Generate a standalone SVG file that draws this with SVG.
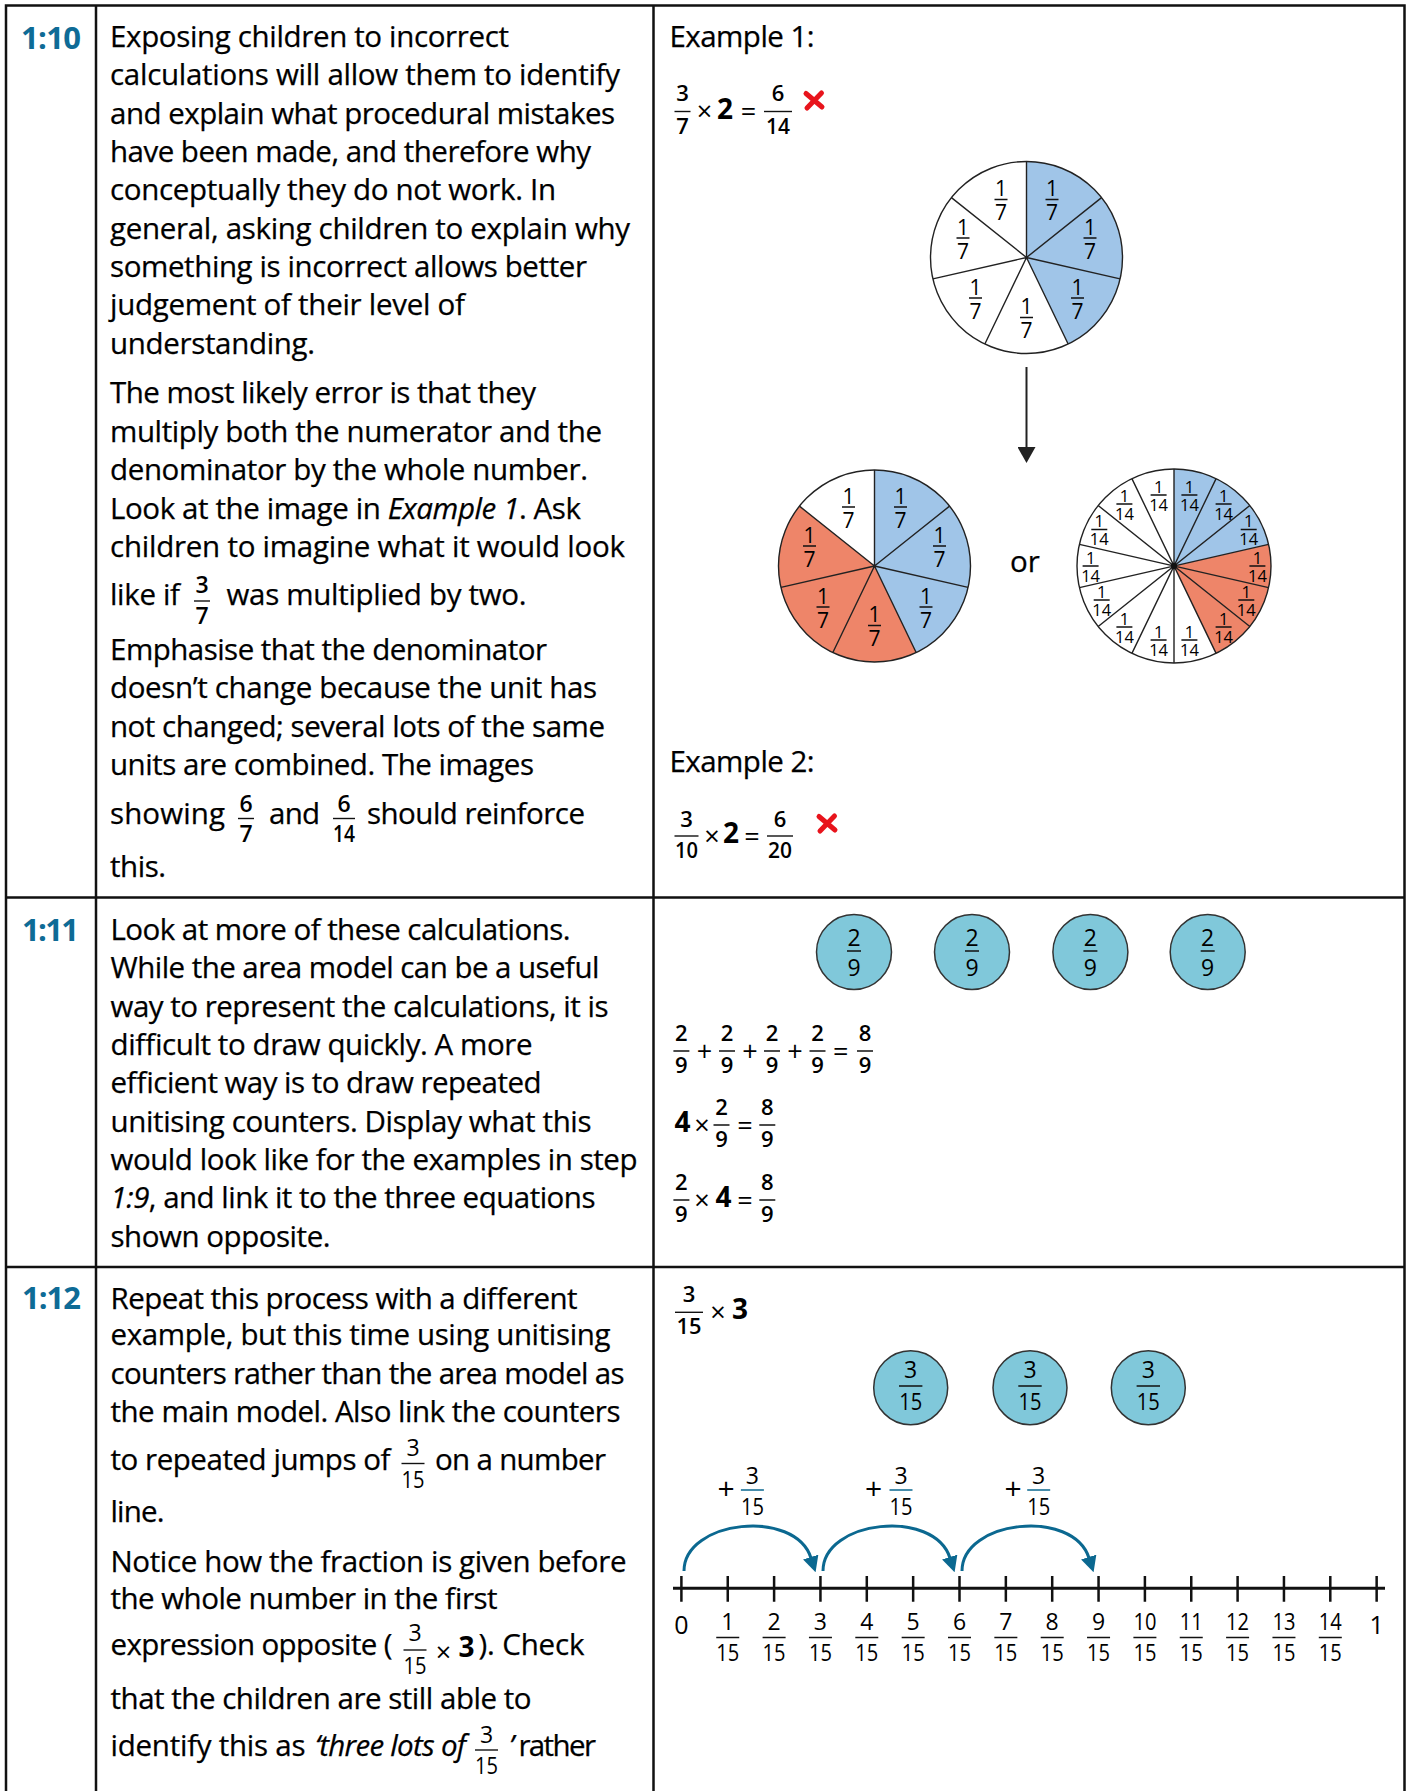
<svg xmlns="http://www.w3.org/2000/svg" width="1407" height="1791" viewBox="0 0 1407 1791">
<style>
text{font-family:"Open Sans","Liberation Sans",sans-serif;fill:#000}
.b{font-size:29.5px;stroke:#000;stroke-width:0.25}
.lbl{font-size:31px;font-weight:bold;fill:#0e6b96}
.fq{font-size:22px;font-weight:600;text-anchor:middle}
.fi{font-size:23px;font-weight:600;text-anchor:middle}
.fr{font-size:23px;text-anchor:middle}
.fp{font-size:21px;text-anchor:middle}
.fn{font-size:23px;text-anchor:middle}
.fs{font-size:16.5px;text-anchor:middle}
.op{font-size:27px;text-anchor:middle}
.wn{font-size:28px;font-weight:bold;text-anchor:middle}
.bl{fill:#0b6890}
.bar{stroke:#111;stroke-width:1.4}
.barb{stroke:#0b6890;stroke-width:1.5}
.grid{stroke:#111;stroke-width:2.5;fill:none}
.pl{stroke:#222;stroke-width:1.4;fill:none}
.cnt{fill:#80c8da;stroke:#333;stroke-width:1.5}
.jump{fill:none;stroke:#0b6890;stroke-width:3}
.x{stroke:#e8141c;stroke-width:5;stroke-linecap:round;fill:none}
</style>
<defs>
<marker id="ah" viewBox="0 0 16 18" refX="1" refY="9" markerWidth="16" markerHeight="18" markerUnits="userSpaceOnUse" orient="auto"><path d="M0 0 L16 9 L0 18 Z" fill="#222"/></marker>
<marker id="ahb" viewBox="0 0 16 16" refX="1" refY="8" markerWidth="16" markerHeight="16" markerUnits="userSpaceOnUse" orient="auto"><path d="M0 0 L16 8 L0 16 Z" fill="#0b6890"/></marker>
</defs>
<rect width="1407" height="1791" fill="#fff"/>

<g id="table" class="grid">
<path d="M4.8 5.5 H1405.7 M4.8 897.5 H1405.7 M4.8 1267 H1405.7 M6 4.3 V1791 M96 4.3 V1791 M653.5 4.3 V1791 M1404.5 4.3 V1791"/>
</g>

<!-- ROW 1:10 -->
<g id="row-1-10-label"><text class="lbl" x="21" y="48.5" textLength="60">1:10</text></g>
<g id="row-1-10-text">
<text class="b" x="110" y="46.5" textLength="399">Exposing children to incorrect</text>
<text class="b" x="110" y="85" textLength="510">calculations will allow them to identify</text>
<text class="b" x="110" y="123.5" textLength="505">and explain what procedural mistakes</text>
<text class="b" x="110" y="162" textLength="481">have been made, and therefore why</text>
<text class="b" x="110" y="200" textLength="446">conceptually they do not work. In</text>
<text class="b" x="110" y="238.5" textLength="520">general, asking children to explain why</text>
<text class="b" x="110" y="277" textLength="477">something is incorrect allows better</text>
<text class="b" x="110" y="315" textLength="355">judgement of their level of</text>
<text class="b" x="110" y="354" textLength="205">understanding.</text>
<text class="b" x="110" y="403" textLength="426">The most likely error is that they</text>
<text class="b" x="110" y="441.5" textLength="492">multiply both the numerator and the</text>
<text class="b" x="110" y="480" textLength="478">denominator by the whole number.</text>
<text class="b" x="110" y="519" textLength="471">Look at the image in <tspan font-style="italic">Example 1</tspan>. Ask</text>
<text class="b" x="110" y="557" textLength="515">children to imagine what it would look</text>
<text class="b" x="110" y="605" textLength="70">like if</text>
<text class="fi" x="202" y="593">3</text><line class="bar" x1="194" y1="601" x2="210" y2="601"/><text class="fi" x="202" y="624">7</text>
<text class="b" x="226.5" y="605" textLength="300">was multiplied by two.</text>
<text class="b" x="110" y="660" textLength="437">Emphasise that the denominator</text>
<text class="b" x="110" y="698" textLength="487">doesn’t change because the unit has</text>
<text class="b" x="110" y="736.5" textLength="495">not changed; several lots of the same</text>
<text class="b" x="110" y="774.5" textLength="424">units are combined. The images</text>
<text class="b" x="110" y="823.5" textLength="115">showing</text>
<text class="fi" x="246" y="812">6</text><line class="bar" x1="238" y1="818.5" x2="254" y2="818.5"/><text class="fi" x="246" y="841.5">7</text>
<text class="b" x="269" y="823.5" textLength="51">and</text>
<text class="fi" x="344" y="812">6</text><line class="bar" x1="333" y1="818.5" x2="355" y2="818.5"/><text class="fi" x="344" y="841.5" textLength="22" lengthAdjust="spacingAndGlyphs">14</text>
<text class="b" x="367" y="823.5" textLength="218">should reinforce</text>
<text class="b" x="110" y="877" textLength="56">this.</text>
</g>

<g id="example-1">
<text class="b" x="669.5" y="46.5" textLength="145">Example 1:</text>
<text class="fq" x="682.5" y="100.5">3</text><line class="bar" x1="674.5" y1="111.5" x2="690.5" y2="111.5"/><text class="fq" x="682.5" y="133.5">7</text>
<text class="op" x="704.5" y="121">×</text>
<text class="wn" x="725" y="119">2</text>
<text class="op" x="748.5" y="121">=</text>
<text class="fq" x="778" y="100.5">6</text><line class="bar" x1="764" y1="111.5" x2="792" y2="111.5"/><text class="fq" x="778" y="133.5" textLength="24" lengthAdjust="spacingAndGlyphs">14</text>
<path class="x" d="M806 93.5 L822 107 M821.5 93 L807 108"/>
</g>

<g id="pie-sevenths">
<circle cx="1026.5" cy="257.5" r="96" fill="#fff"/>
<path d="M1026.5 257.5 L1026.5 161.5 A96 96 0 0 1 1068.15 344 Z" fill="#a0c5e8"/>
<path class="pl" d="M1026.5 257.5 L1026.5 161.5 M1026.5 257.5 L1101.55 197.64 M1026.5 257.5 L1120.09 278.86 M1026.5 257.5 L1068.15 344 M1026.5 257.5 L984.85 344 M1026.5 257.5 L932.91 278.86 M1026.5 257.5 L951.45 197.64"/>
<circle class="pl" cx="1026.5" cy="257.5" r="96"/>
<g class="fp">
<text x="1052" y="196">1</text><text x="1052" y="220">7</text>
<text x="1090" y="234.5">1</text><text x="1090" y="258.5">7</text>
<text x="1077.5" y="294.5">1</text><text x="1077.5" y="318.5">7</text>
<text x="1026.5" y="314">1</text><text x="1026.5" y="338">7</text>
<text x="975.5" y="294.5">1</text><text x="975.5" y="318.5">7</text>
<text x="963" y="234.5">1</text><text x="963" y="258.5">7</text>
<text x="1001" y="196">1</text><text x="1001" y="220">7</text>
</g>
<path class="bar" d="M1045.5 199.5 H1058.5 M1083.5 238 H1096.5 M1071 298 H1084 M1020 317.5 H1033 M969 298 H982 M956.5 238 H969.5 M994.5 199.5 H1007.5"/>
</g>

<g id="pie-sevenths-doubled">
<circle cx="874.5" cy="566" r="96" fill="#fff"/>
<path d="M874.5 566 L874.5 470 A96 96 0 0 1 916.15 652.5 Z" fill="#a0c5e8"/>
<path d="M874.5 566 L916.15 652.5 A96 96 0 0 1 799.45 506.14 Z" fill="#ee8569"/>
<path class="pl" d="M874.5 566 L874.5 470 M874.5 566 L949.55 506.14 M874.5 566 L968.09 587.36 M874.5 566 L916.15 652.5 M874.5 566 L832.85 652.5 M874.5 566 L780.91 587.36 M874.5 566 L799.45 506.14"/>
<circle class="pl" cx="874.5" cy="566" r="96"/>
<g class="fp">
<text x="900.5" y="503.5">1</text><text x="900.5" y="527.5">7</text>
<text x="939.5" y="542.5">1</text><text x="939.5" y="566.5">7</text>
<text x="926" y="603.5">1</text><text x="926" y="627.5">7</text>
<text x="874.5" y="622">1</text><text x="874.5" y="646">7</text>
<text x="823" y="603.5">1</text><text x="823" y="627.5">7</text>
<text x="809.5" y="542.5">1</text><text x="809.5" y="566.5">7</text>
<text x="848.5" y="503.5">1</text><text x="848.5" y="527.5">7</text>
</g>
<path class="bar" d="M894 507 H907 M933 546 H946 M919.5 607 H932.5 M868 625.5 H881 M816.5 607 H829.5 M803 546 H816 M842 507 H855"/>
</g>

<g id="or-label"><text class="b" x="1025" y="571.5" text-anchor="middle">or</text></g>

<g id="pie-fourteenths">
<circle cx="1174" cy="566" r="97" fill="#fff"/>
<path d="M1174 566 L1174 469 A97 97 0 0 1 1268.57 544.42 Z" fill="#a0c5e8"/>
<path d="M1174 566 L1268.57 544.42 A97 97 0 0 1 1216.09 653.4 Z" fill="#ee8569"/>
<path class="pl" d="M1174 469 L1174 663 M1216.09 478.6 L1131.91 653.4 M1249.83 505.52 L1098.17 626.48 M1268.57 544.42 L1079.43 587.58 M1268.57 587.58 L1079.43 544.42 M1249.83 626.48 L1098.17 505.52 M1216.09 653.4 L1131.91 478.6"/>
<circle class="pl" cx="1174" cy="566" r="97"/>
<circle cx="1174" cy="566" r="3" fill="#111"/>
<g class="fs">
<text x="1189.4" y="492.5">1</text><text x="1189.4" y="510.5">14</text>
<text x="1223.6" y="501.5">1</text><text x="1223.6" y="519.5">14</text>
<text x="1248.7" y="527">1</text><text x="1248.7" y="545">14</text>
<text x="1257.4" y="563.5">1</text><text x="1257.4" y="581.5">14</text>
<text x="1246.3" y="597.5">1</text><text x="1246.3" y="615.5">14</text>
<text x="1223.6" y="624.5">1</text><text x="1223.6" y="642.5">14</text>
<text x="1189.4" y="637.5">1</text><text x="1189.4" y="655.5">14</text>
<text x="1158.6" y="637.5">1</text><text x="1158.6" y="655.5">14</text>
<text x="1124.4" y="624.5">1</text><text x="1124.4" y="642.5">14</text>
<text x="1101.7" y="597.5">1</text><text x="1101.7" y="615.5">14</text>
<text x="1090.6" y="563.5">1</text><text x="1090.6" y="581.5">14</text>
<text x="1099.3" y="527">1</text><text x="1099.3" y="545">14</text>
<text x="1124.4" y="501.5">1</text><text x="1124.4" y="519.5">14</text>
<text x="1158.6" y="492.5">1</text><text x="1158.6" y="510.5">14</text>
</g>
<path class="bar" d="M1181.4 495 H1197.4 M1215.6 504 H1231.6 M1240.7 529.5 H1256.7 M1249.4 566 H1265.4 M1238.3 600 H1254.3 M1215.6 627 H1231.6 M1181.4 640 H1197.4 M1150.6 640 H1166.6 M1116.4 627 H1132.4 M1093.7 600 H1109.7 M1082.6 566 H1098.6 M1091.3 529.5 H1107.3 M1116.4 504 H1132.4 M1150.6 495 H1166.6"/>
</g>

<g id="example-2">
<text class="b" x="669.5" y="771.5" textLength="145">Example 2:</text>
<text class="fq" x="686.5" y="826.5">3</text><line class="bar" x1="674.5" y1="836" x2="698.5" y2="836"/><text class="fq" x="686.5" y="857.5" textLength="23" lengthAdjust="spacingAndGlyphs">10</text>
<text class="op" x="712" y="845.5">×</text>
<text class="wn" x="731" y="842.5">2</text>
<text class="op" x="752" y="845.5">=</text>
<text class="fq" x="780" y="826.5">6</text><line class="bar" x1="767" y1="836" x2="793" y2="836"/><text class="fq" x="780" y="857.5" textLength="24" lengthAdjust="spacingAndGlyphs">20</text>
<path class="x" d="M819 816.5 L835 830 M834.5 816 L820 831"/>
</g>

<!-- ROW 1:11 -->
<g id="row-1-11-label"><text class="lbl" x="22" y="940.5" textLength="57">1:11</text></g>
<g id="row-1-11-text">
<text class="b" x="110.5" y="940" textLength="460">Look at more of these calculations.</text>
<text class="b" x="110.5" y="978" textLength="489">While the area model can be a useful</text>
<text class="b" x="110.5" y="1016.5" textLength="498">way to represent the calculations, it is</text>
<text class="b" x="110.5" y="1055" textLength="422">difficult to draw quickly. A more</text>
<text class="b" x="110.5" y="1093" textLength="431">efficient way is to draw repeated</text>
<text class="b" x="110.5" y="1131.5" textLength="481">unitising counters. Display what this</text>
<text class="b" x="110.5" y="1170" textLength="527">would look like for the examples in step</text>
<text class="b" x="110.5" y="1208" textLength="485"><tspan font-style="italic">1:9</tspan>, and link it to the three equations</text>
<text class="b" x="110.5" y="1246.5" textLength="220">shown opposite.</text>
</g>

<g id="counters-2-9">
<circle class="cnt" cx="854" cy="952" r="37.5"/>
<circle class="cnt" cx="972" cy="952" r="37.5"/>
<circle class="cnt" cx="1090.4" cy="952" r="37.5"/>
<circle class="cnt" cx="1207.7" cy="952" r="37.5"/>
<g class="fr">
<text x="854" y="946">2</text><text x="854" y="975.5">9</text>
<text x="972" y="946">2</text><text x="972" y="975.5">9</text>
<text x="1090.4" y="946">2</text><text x="1090.4" y="975.5">9</text>
<text x="1207.7" y="946">2</text><text x="1207.7" y="975.5">9</text>
</g>
<path class="bar" d="M847 951 H861 M965 951 H979 M1083.4 951 H1097.4 M1200.7 951 H1214.7"/>
</g>

<g id="equations-2-9">
<g class="fq">
<text x="681.4" y="1041">2</text><text x="681.4" y="1073">9</text>
<text x="727" y="1041">2</text><text x="727" y="1073">9</text>
<text x="772" y="1041">2</text><text x="772" y="1073">9</text>
<text x="817.5" y="1041">2</text><text x="817.5" y="1073">9</text>
<text x="865" y="1041">8</text><text x="865" y="1073">9</text>
<text x="721.5" y="1115">2</text><text x="721.5" y="1147">9</text>
<text x="767.3" y="1115">8</text><text x="767.3" y="1147">9</text>
<text x="681.4" y="1190">2</text><text x="681.4" y="1222">9</text>
<text x="767.3" y="1190">8</text><text x="767.3" y="1222">9</text>
</g>
<path class="bar" d="M673.4 1051 H689.4 M719 1051 H735 M764 1051 H780 M809.5 1051 H825.5 M857 1051 H873 M713.5 1125 H729.5 M759.3 1125 H775.3 M673.4 1200 H689.4 M759.3 1200 H775.3"/>
<g class="op">
<text x="704.6" y="1060.5">+</text><text x="750" y="1060.5">+</text><text x="795" y="1060.5">+</text><text x="840.7" y="1060.5">=</text>
<text x="702" y="1134.5">×</text><text x="745" y="1134.5">=</text>
<text x="702" y="1209.5">×</text><text x="745" y="1209.5">=</text>
</g>
<text class="wn" x="682.5" y="1131.5">4</text>
<text class="wn" x="723.5" y="1206.5">4</text>
</g>

<!-- ROW 1:12 -->
<g id="row-1-12-label"><text class="lbl" x="22" y="1308.5" textLength="59">1:12</text></g>
<g id="row-1-12-text">
<text class="b" x="110.5" y="1308.5" textLength="467">Repeat this process with a different</text>
<text class="b" x="110.5" y="1345" textLength="500">example, but this time using unitising</text>
<text class="b" x="110.5" y="1383.5" textLength="514">counters rather than the area model as</text>
<text class="b" x="110.5" y="1421.5" textLength="510">the main model. Also link the counters</text>
<text class="b" x="110.5" y="1470" textLength="280">to repeated jumps of</text>
<text class="fr" x="413" y="1456">3</text><line class="bar" x1="401.5" y1="1463.5" x2="424.5" y2="1463.5"/><text class="fr" x="413" y="1488" textLength="23" lengthAdjust="spacingAndGlyphs">15</text>
<text class="b" x="435" y="1470" textLength="171">on a number</text>
<text class="b" x="110.5" y="1521.5" textLength="54">line.</text>
<text class="b" x="110.5" y="1571.5" textLength="516">Notice how the fraction is given before</text>
<text class="b" x="110.5" y="1608.5" textLength="387">the whole number in the first</text>
<text class="b" x="110.5" y="1655" textLength="282">expression opposite (</text>
<text class="fr" x="415" y="1641">3</text><line class="bar" x1="403.5" y1="1650" x2="426.5" y2="1650"/><text class="fr" x="415" y="1674" textLength="23" lengthAdjust="spacingAndGlyphs">15</text>
<text class="op" x="443.5" y="1662" font-size="26">×</text>
<text class="wn" x="466.5" y="1656.5">3</text>
<text class="b" x="478.5" y="1655" textLength="106">). Check</text>
<text class="b" x="110.5" y="1708.5" textLength="421">that the children are still able to</text>
<text class="b" x="110.5" y="1756" textLength="195">identify this as</text>
<text class="b" x="315" y="1756" textLength="151" font-style="italic">‘three lots of</text>
<text class="fr" x="486.5" y="1742.5">3</text><line class="bar" x1="475" y1="1750" x2="498" y2="1750"/><text class="fr" x="486.5" y="1774" textLength="23" lengthAdjust="spacingAndGlyphs">15</text>
<text class="b" x="509" y="1756" textLength="87"><tspan font-style="italic">’</tspan> rather</text>
</g>

<g id="expression-3-15">
<text class="fq" x="689" y="1301.5">3</text><line class="bar" x1="675" y1="1312.3" x2="703" y2="1312.3"/><text class="fq" x="689" y="1334" textLength="25" lengthAdjust="spacingAndGlyphs">15</text>
<text class="op" x="718" y="1322">×</text>
<text class="wn" x="740" y="1319">3</text>
</g>

<g id="counters-3-15">
<circle class="cnt" cx="910.7" cy="1387.7" r="37"/>
<circle class="cnt" cx="1030" cy="1387.7" r="37"/>
<circle class="cnt" cx="1148.3" cy="1387.7" r="37"/>
<g class="fn">
<text x="910.7" y="1378">3</text><text x="910.7" y="1409.5" textLength="23" lengthAdjust="spacingAndGlyphs">15</text>
<text x="1030" y="1378">3</text><text x="1030" y="1409.5" textLength="23" lengthAdjust="spacingAndGlyphs">15</text>
<text x="1148.3" y="1378">3</text><text x="1148.3" y="1409.5" textLength="23" lengthAdjust="spacingAndGlyphs">15</text>
</g>
<path class="bar" d="M899 1386 H922.4 M1018.3 1386 H1041.7 M1136.6 1386 H1160"/>
</g>

<g id="number-line">
<path d="M673 1588.3 H1385" stroke="#111" stroke-width="3"/>
<path stroke="#111" stroke-width="2.5" d="M681.4 1576 V1601.7 M727.75 1576 V1601.7 M774.1 1576 V1601.7 M820.45 1576 V1601.7 M866.8 1576 V1601.7 M913.15 1576 V1601.7 M959.5 1576 V1601.7 M1005.85 1576 V1601.7 M1052.2 1576 V1601.7 M1098.55 1576 V1601.7 M1144.9 1576 V1601.7 M1191.25 1576 V1601.7 M1237.6 1576 V1601.7 M1283.95 1576 V1601.7 M1330.3 1576 V1601.7 M1376.65 1576 V1601.7"/>
<text x="681.4" y="1634" font-size="25" text-anchor="middle">0</text>
<text x="1376.65" y="1634" font-size="25" text-anchor="middle">1</text>
<g class="fn">
<text x="727.75" y="1630">1</text>
<text x="774.1" y="1630">2</text>
<text x="820.45" y="1630">3</text>
<text x="866.8" y="1630">4</text>
<text x="913.15" y="1630">5</text>
<text x="959.5" y="1630">6</text>
<text x="1005.85" y="1630">7</text>
<text x="1052.2" y="1630">8</text>
<text x="1098.55" y="1630">9</text>
<text x="1144.9" y="1630" textLength="23" lengthAdjust="spacingAndGlyphs">10</text>
<text x="1191.25" y="1630" textLength="23" lengthAdjust="spacingAndGlyphs">11</text>
<text x="1237.6" y="1630" textLength="23" lengthAdjust="spacingAndGlyphs">12</text>
<text x="1283.95" y="1630" textLength="23" lengthAdjust="spacingAndGlyphs">13</text>
<text x="1330.3" y="1630" textLength="23" lengthAdjust="spacingAndGlyphs">14</text>
</g>
<g class="fn">
<text x="727.75" y="1661" textLength="23" lengthAdjust="spacingAndGlyphs">15</text>
<text x="774.1" y="1661" textLength="23" lengthAdjust="spacingAndGlyphs">15</text>
<text x="820.45" y="1661" textLength="23" lengthAdjust="spacingAndGlyphs">15</text>
<text x="866.8" y="1661" textLength="23" lengthAdjust="spacingAndGlyphs">15</text>
<text x="913.15" y="1661" textLength="23" lengthAdjust="spacingAndGlyphs">15</text>
<text x="959.5" y="1661" textLength="23" lengthAdjust="spacingAndGlyphs">15</text>
<text x="1005.85" y="1661" textLength="23" lengthAdjust="spacingAndGlyphs">15</text>
<text x="1052.2" y="1661" textLength="23" lengthAdjust="spacingAndGlyphs">15</text>
<text x="1098.55" y="1661" textLength="23" lengthAdjust="spacingAndGlyphs">15</text>
<text x="1144.9" y="1661" textLength="23" lengthAdjust="spacingAndGlyphs">15</text>
<text x="1191.25" y="1661" textLength="23" lengthAdjust="spacingAndGlyphs">15</text>
<text x="1237.6" y="1661" textLength="23" lengthAdjust="spacingAndGlyphs">15</text>
<text x="1283.95" y="1661" textLength="23" lengthAdjust="spacingAndGlyphs">15</text>
<text x="1330.3" y="1661" textLength="23" lengthAdjust="spacingAndGlyphs">15</text>
</g>
<path class="bar" d="M716.25 1637.5 H739.25 M762.6 1637.5 H785.6 M808.95 1637.5 H831.95 M855.3 1637.5 H878.3 M901.65 1637.5 H924.65 M948 1637.5 H971 M994.35 1637.5 H1017.35 M1040.7 1637.5 H1063.7 M1087.05 1637.5 H1110.05 M1133.4 1637.5 H1156.4 M1179.75 1637.5 H1202.75 M1226.1 1637.5 H1249.1 M1272.45 1637.5 H1295.45 M1318.8 1637.5 H1341.8"/>
</g>

<g id="jump-labels">
<g class="fn bl">
<text x="752.4" y="1483.5">3</text><text x="752.4" y="1515" textLength="23" lengthAdjust="spacingAndGlyphs">15</text>
<text x="901" y="1483.5">3</text><text x="901" y="1515" textLength="23" lengthAdjust="spacingAndGlyphs">15</text>
<text x="1038.7" y="1483.5">3</text><text x="1038.7" y="1515" textLength="23" lengthAdjust="spacingAndGlyphs">15</text>
</g>
<g class="bl" font-size="30" text-anchor="middle">
<text x="726" y="1499">+</text><text x="873.5" y="1499">+</text><text x="1013" y="1499">+</text>
</g>
<path class="barb" d="M740.9 1490 H763.9 M889.5 1490 H912.5 M1027.2 1490 H1050.2"/>
</g>

<g id="connectors">
<line x1="1026.5" y1="367" x2="1026.5" y2="448" stroke="#222" stroke-width="2" marker-end="url(#ah)"/>
<path class="jump" d="M684 1571 C684 1520 795 1508 811 1558" marker-end="url(#ahb)"/>
<path class="jump" d="M823 1571 C823 1520 934 1508 950 1558" marker-end="url(#ahb)"/>
<path class="jump" d="M962 1571 C962 1520 1073 1508 1089 1558" marker-end="url(#ahb)"/>
</g>
</svg>
